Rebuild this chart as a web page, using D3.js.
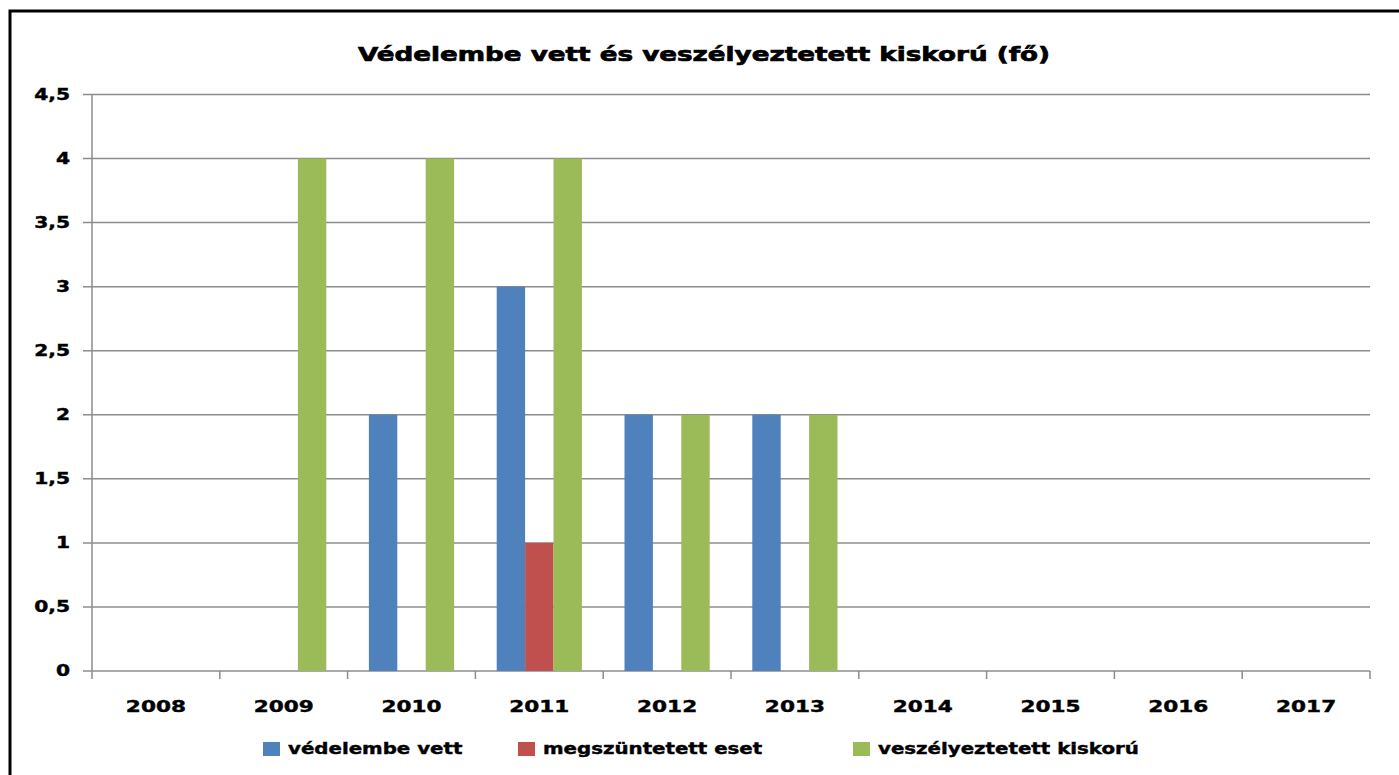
<!DOCTYPE html>
<html>
<head>
<meta charset="utf-8">
<script src="https://cdn.jsdelivr.net/npm/d3@7"></script>
<style>
  body { margin: 0; background: #fff; }
  text { font-family: "DejaVu Sans", Verdana, sans-serif; font-weight: bold; fill: #000; stroke: #000; stroke-width: 0.4px; }
</style>
</head>
<body>
<svg width="1399" height="775"></svg>
<script>
// data
const years = ['2008', '2009', '2010', '2011', '2012', '2013', '2014', '2015', '2016', '2017'];
const seriesNames = ['védelembe vett', 'megszüntetett eset', 'veszélyeztetett kiskorú'];
const vedelembeVett = [0, 0, 2, 3, 2, 2, 0, 0, 0, 0];
const megszuntetett = [0, 0, 0, 1, 0, 0, 0, 0, 0, 0];
const veszelyeztetett = [0, 4, 4, 4, 2, 2, 0, 0, 0, 0];
const yTicks = [0, 0.5, 1, 1.5, 2, 2.5, 3, 3.5, 4, 4.5];
const colors = ['#4F81BD', '#C0504D', '#9BBB59'];

const series = [vedelembeVett, megszuntetett, veszelyeztetett];
const title = 'Védelembe vett és veszélyeztetett kiskorú (fő)';

let svg = d3.select('svg');
const plot = {left: 92, right: 1370, top: 94.5, bottom: 671};

// helper: text stretched sideways like the picture's
let addText = (g, x, y, str, size, anchor, sx = 1.35) => g.append('g')
    .attr('transform', `translate(${x},${y}) scale(${sx},1)`)
    .append('text')
    .attr('text-anchor', anchor)
    .attr('dy', '.35em')
    .style('font-size', size + 'px')
    .text(str);

// frame
svg.append('rect')
    .attr('x', 10).attr('y', 11)
    .attr('width', 1420).attr('height', 800)
    .attr('fill', 'none').attr('stroke', '#000').attr('stroke-width', 3);

let x = d3.scaleBand().domain(years).range([plot.left, plot.right]);
let barW = x.bandwidth() / 4.5;
let xInner = d3.scaleBand().domain(d3.range(3)).range([0, barW * 3]);
let y = d3.scaleLinear().domain([0, 4.5]).range([plot.bottom, plot.top]);

// gridlines + y ticks
svg.append('g').selectAll('line')
    .data(yTicks)
    .enter().append('line')
    .attr('x1', plot.left - 9).attr('x2', plot.right)
    .attr('y1', d => y(d)).attr('y2', d => y(d))
    .attr('stroke', '#8c8c8c').attr('stroke-width', 1.5);

let fmt = d => String(d).replace('.', ',');
let yLab = svg.append('g');
yTicks.forEach(d => addText(yLab, 70, y(d), fmt(d), 15, 'end'));

// bars
let groups = svg.append('g').selectAll('g')
    .data(series)
    .enter().append('g')
    .attr('fill', (d, i) => colors[i]);
groups.each(function (vals, si) {
    d3.select(this).selectAll('rect')
        .data(vals.map((v, i) => ({year: years[i], v})).filter(d => d.v > 0))
        .enter().append('rect')
        .attr('x', d => x(d.year) + barW * 0.75 + xInner(si))
        .attr('width', xInner.bandwidth())
        .attr('y', d => y(d.v))
        .attr('height', d => y(0) - y(d.v));
});

// axis lines
svg.append('line')
    .attr('x1', plot.left).attr('x2', plot.left)
    .attr('y1', plot.top).attr('y2', plot.bottom)
    .attr('stroke', '#8c8c8c').attr('stroke-width', 1.5);
svg.append('g').selectAll('line')
    .data(years.concat(['end']))
    .enter().append('line')
    .attr('x1', (d, i) => plot.left + i * x.step())
    .attr('x2', (d, i) => plot.left + i * x.step())
    .attr('y1', plot.bottom).attr('y2', plot.bottom + 8)
    .attr('stroke', '#8c8c8c').attr('stroke-width', 1.5);

// x labels
let xLab = svg.append('g');
years.forEach(d => addText(xLab, x(d) + x.bandwidth() / 2, 706, d, 16, 'middle'));

// title
addText(svg, 704, 54, title, 20, 'middle', 1.31).style('stroke-width', '0.7px');

// legend
const legendX = [263, 518, 853];
let leg = svg.append('g');
seriesNames.forEach((name, i) => {
    leg.append('rect')
        .attr('x', legendX[i]).attr('y', 742)
        .attr('width', 17).attr('height', 14)
        .attr('fill', colors[i]);
    addText(leg, legendX[i] + 25, 749, name, 15, 'start', 1.32);
});
</script>
</body>
</html>
